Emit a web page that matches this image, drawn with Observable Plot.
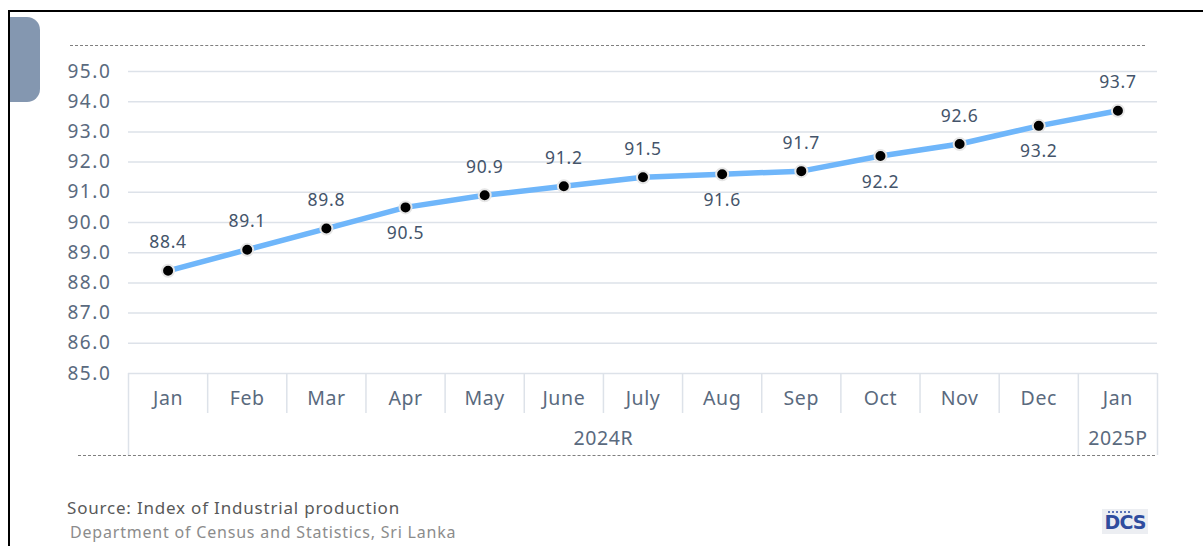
<!DOCTYPE html>
<html>
<head>
<meta charset="utf-8">
<script src="https://cdn.jsdelivr.net/npm/d3@7"></script>
<script src="https://cdn.jsdelivr.net/npm/@observablehq/plot@0.6"></script>
<style>
  html, body { margin: 0; padding: 0; background: #fff; }
  #page { position: relative; width: 1203px; height: 546px; overflow: hidden; font-family: "Noto Sans", sans-serif; }
  #chart { position: absolute; left: 0; top: 0; }
  .abs { position: absolute; }
  g[aria-label="y-axis tick label"] text { letter-spacing: 1.6px; }
  g[aria-label="x-axis tick label"] text { letter-spacing: 0.6px; }
  g[aria-label="text"] text { letter-spacing: 0.7px; }
</style>
</head>
<body>
<div id="page">
  <div class="abs" style="left:8px; top:10px; width:1195px; height:0; border-top:2px solid #000;"></div>
  <div class="abs" style="left:8px; top:10px; width:0; height:536px; border-left:2px solid #000;"></div>
  <div class="abs" style="left:10px; top:17px; width:30px; height:85px; background:#8497b0; border-radius:0 13px 13px 0;"></div>
  <div id="chart"></div>
  <div class="abs" style="left:70px; top:45px; width:1075px; height:0; border-top:1.5px dashed #7f7f7f;"></div>
  <div class="abs" style="left:78px; top:455px; width:1077px; height:0; border-top:1.5px dashed #7f7f7f;"></div>
  <div class="abs" id="src1" style="left:67px; top:496px; font-size:17px; color:#595959; letter-spacing:0.8px;"></div>
  <div class="abs" id="src2" style="left:70px; top:521px; font-size:16px; color:#8c8c8c; letter-spacing:0.8px;"></div>
  <div class="abs" style="left:1102px; top:509px; width:46px; height:25px; background:#eceef2;">
    <div class="abs" style="left:6px; top:2px; width:22px; height:2px; border-top:2px dotted #5a73b8;"></div>
    <div class="abs" style="left:0px; top:2px; width:46px; text-align:center; font-family:'DejaVu Sans', sans-serif; font-weight:bold; font-size:19px; line-height:22px; color:#2f4c9e; letter-spacing:-1px;">DCS</div>
  </div>
</div>
<script>
const months = ["Jan","Feb","Mar","Apr","May","June","July","Aug","Sep","Oct","Nov","Dec","Jan"];
const values = [88.4, 89.1, 89.8, 90.5, 90.9, 91.2, 91.5, 91.6, 91.7, 92.2, 92.6, 93.2, 93.7];
const years = ["2024R", "2025P"];
const yearSpans = [[0, 11], [12, 12]];
const yTicks = [85, 86, 87, 88, 89, 90, 91, 92, 93, 94, 95];
const labelBelow = [3, 7, 9, 11];
const sourceLine1 = "Source: Index of Industrial production";
const sourceLine2 = "Department of Census and Statistics, Sri Lanka";

document.getElementById("src1").textContent = sourceLine1;
document.getElementById("src2").textContent = sourceLine2;

const data = values.map((v, i) => ({i, v, month: months[i], below: labelBelow.includes(i)}));
const gridColor = "#dde2e9";
const textColor = "#5a6a7e";
const labelColor = "#44546a";

const innerSeps = d3.range(0, months.length - 1).map(i => i + 0.5).filter(s => s !== yearSpans[0][1] + 0.5);
const outerSeps = [-0.5, yearSpans[0][1] + 0.5, months.length - 0.5];
const yearCenters = yearSpans.map(([a, b]) => (a + b) / 2);

const chart = Plot.plot({
  width: 1203,
  height: 470,
  marginLeft: 128,
  marginRight: 46,
  marginTop: 71,
  marginBottom: 97,
  style: {fontFamily: "'Noto Sans', sans-serif", background: "transparent", overflow: "visible"},
  x: {type: "linear", domain: [-0.5, months.length - 0.5], label: null},
  y: {domain: [85, 95], label: null},
  marks: [
    Plot.ruleY(yTicks, {stroke: gridColor, strokeWidth: 1.5}),
    Plot.axisY({ticks: yTicks, tickFormat: d3.format(".1f"), tickSize: 0, tickPadding: 17, fontSize: 19, fill: textColor, label: null}),
    Plot.axisX({ticks: innerSeps, tickSize: 40, tickFormat: () => "", stroke: gridColor, strokeWidth: 1.5, label: null}),
    Plot.axisX({ticks: outerSeps, tickSize: 82, tickFormat: () => "", stroke: gridColor, strokeWidth: 1.5, label: null}),
    Plot.axisX({ticks: d3.range(months.length), tickFormat: i => months[i], tickSize: 0, tickPadding: 18, fontSize: 19.5, fill: textColor, label: null}),
    Plot.axisX({ticks: yearCenters, tickFormat: (d, k) => years[k], tickSize: 0, tickPadding: 58, fontSize: 19.5, fill: textColor, label: null}),
    Plot.line(data, {x: "i", y: "v", stroke: "#6fb6fa", strokeWidth: 5.5}),
    Plot.dot(data, {x: "i", y: "v", r: 6, fill: "#000", stroke: "#e6e6e6", strokeWidth: 2}),
    Plot.text(data.filter(d => !d.below), {x: "i", y: "v", text: d => d.v.toFixed(1), dy: -28, fontSize: 17.5, fill: labelColor}),
    Plot.text(data.filter(d => d.below), {x: "i", y: "v", text: d => d.v.toFixed(1), dy: 26, fontSize: 17.5, fill: labelColor})
  ]
});
document.getElementById("chart").appendChild(chart);
</script>
</body>
</html>
